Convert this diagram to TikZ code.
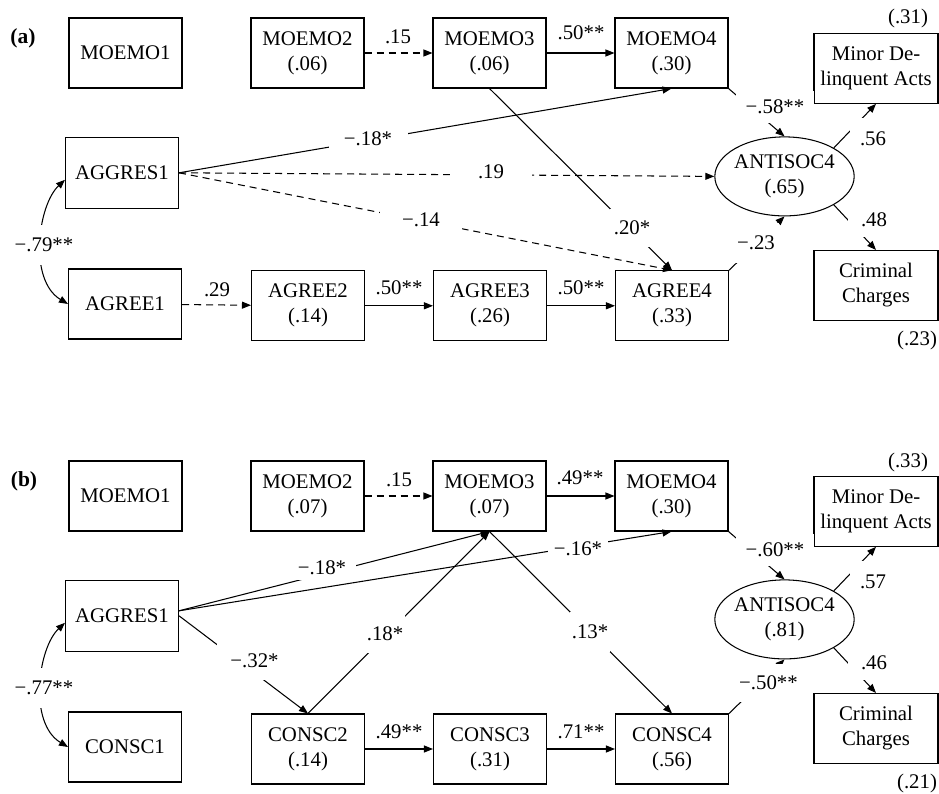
\documentclass[tikz,border=0pt]{standalone}
\usepackage{fontspec}
\setmainfont{Liberation Serif}
\usetikzlibrary{arrows.meta,shapes.geometric}
\begin{document}
\begin{tikzpicture}[x=1pt,y=-1pt,line width=1.05pt,
  every node/.style={font=\fontsize{20.8}{25}\selectfont},
  rbox/.style={draw,rectangle,minimum width=113pt,minimum height=70pt,align=center,inner sep=0pt},
  wbox/.style={draw,rectangle,minimum width=124pt,minimum height=70pt,align=center,inner sep=0pt},
  lat/.style={draw,ellipse,minimum width=139pt,minimum height=79pt,align=center,inner xsep=-1pt,inner ysep=0pt},
  lab/.style={fill=white,inner sep=1pt},
  plain/.style={inner sep=1pt},
  conn/.style={-{Triangle[length=9pt,width=7pt]}},
  dsh/.style={conn,dash pattern=on 7pt off 5pt},
  corr/.style={{Triangle[length=9pt,width=7pt]}-{Triangle[length=9pt,width=7pt]}},
  panel/.style={font=\fontsize{21.5}{25}\selectfont\bfseries}]
\useasboundingbox (0,0) rectangle (939,794);

% ---------------- Panel (a) ----------------
\node[panel] (pa) at (23,38) {(a)};
\node[rbox] (amo1) at (125.5,53) {MOEMO1};
\node[rbox] (amo2) at (307.5,53) {MOEMO2\\(.06)};
\node[rbox] (amo3) at (489.5,53) {MOEMO3\\(.06)};
\node[rbox] (amo4) at (671.5,53) {MOEMO4\\(.30)};
\node[wbox] (aminor) at (876,68.3) {Minor De-\\linquent Acts};
\node[lat] (aant) at (784.5,176.4) {ANTISOC4\\(.65)};
\node[rbox,minimum height=71pt] (aagg) at (122,172.8) {AGGRES1};
\node[rbox] (aag1) at (125,304) {AGREE1};
\node[rbox] (aag2) at (308,305.8) {AGREE2\\(.14)};
\node[rbox] (aag3) at (490,305.8) {AGREE3\\(.26)};
\node[rbox] (aag4) at (672,305.8) {AGREE4\\(.33)};
\node[wbox] (acrim) at (876,285.5) {Criminal\\Charges};
\node[plain] (ar1) at (908,19) {(.31)};
\node[plain] (ar2) at (917,340) {(.23)};

\draw[dsh] (amo2) -- (amo3);
\draw[conn] (amo3) -- (amo4);
\draw[conn] (amo4.south east) -- (aant.north);
\draw[conn] (aagg.east) -- (amo4.south);
\draw[dsh] (aagg.east) -- (aant.west);
\draw[dsh] (aagg.east) -- (aag4.north);
\draw[conn] (amo3.south) -- (aag4.north);
\draw[conn] (aag4.north east) -- (aant.south);
\draw[conn] (aant.30) -- (aminor.south);
\draw[conn] (aant.-30) -- (acrim.north);
\draw[dsh] (aag1) -- (aag2);
\draw[conn] (aag2) -- (aag3);
\draw[conn] (aag3) -- (aag4);
\draw[corr] (aagg.187) .. controls (38,205) and (28,280) .. (aag1.west);

\node[lab] (la1) at (398,37) {.15};
\node[lab] (la2) at (581,33) {.50**};
\node[lab,minimum width=78pt,minimum height=32pt] (la3) at (775,107) {−.58**};
\node[lab,minimum width=79pt,minimum height=20pt] (la4) at (368,139) {−.18*};
\node[lab,minimum width=82pt,minimum height=20pt] (la5) at (491,172) {.19};
\node[lab,minimum width=82pt,minimum height=20pt] (la6) at (421,220) {−.14};
\node[lab,minimum width=44pt,minimum height=38pt] (la7) at (632,228) {.20*};
\node[lab,minimum width=46pt,minimum height=40pt] (la8) at (756,243) {−.23};
\node[lab,minimum width=46pt,minimum height=42pt] (la9) at (873,139) {.56};
\node[lab,minimum width=52pt,minimum height=34pt] (la10) at (874,220) {.48};
\node[lab] (la11) at (217,290) {.29};
\node[lab] (la12) at (399,288) {.50**};
\node[lab] (la13) at (581,288) {.50**};
\node[lab,minimum width=60pt,minimum height=40pt] (la14) at (44,245) {−.79**};

% ---------------- Panel (b) ----------------
\node[panel] (pb) at (24,481) {(b)};
\node[rbox] (bmo1) at (125.5,496) {MOEMO1};
\node[rbox] (bmo2) at (307.5,496) {MOEMO2\\(.07)};
\node[rbox] (bmo3) at (489.5,496) {MOEMO3\\(.07)};
\node[rbox] (bmo4) at (671.5,496) {MOEMO4\\(.30)};
\node[wbox] (bminor) at (876,511.3) {Minor De-\\linquent Acts};
\node[lat] (bant) at (784.5,619.4) {ANTISOC4\\(.81)};
\node[rbox,minimum height=71pt] (bagg) at (122,615.8) {AGGRES1};
\node[rbox] (bco1) at (125,747) {CONSC1};
\node[rbox] (bco2) at (308,749) {CONSC2\\(.14)};
\node[rbox] (bco3) at (490,749) {CONSC3\\(.31)};
\node[rbox] (bco4) at (672,749) {CONSC4\\(.56)};
\node[wbox] (bcrim) at (876,728.5) {Criminal\\Charges};
\node[plain] (br1) at (908,462) {(.33)};
\node[plain] (br2) at (917,783) {(.21)};

\draw[dsh] (bmo2) -- (bmo3);
\draw[conn] (bmo3) -- (bmo4);
\draw[conn] (bmo4.south east) -- (bant.north);
\draw[conn] (bagg.5) -- (bmo3.south);
\draw[conn] (bagg.5) -- (bmo4.south);
\draw[conn] (bagg.east) -- (bco2.north);
\draw[conn] (bco2.north) -- (bmo3.south);
\draw[conn] (bmo3.south) -- (bco4.north);
\draw[conn] (bco4.north east) -- (bant.south);
\draw[conn] (bant.30) -- (bminor.south);
\draw[conn] (bant.-30) -- (bcrim.north);
\draw[conn] (bco2) -- (bco3);
\draw[conn] (bco3) -- (bco4);
\draw[corr] (bagg.187) .. controls (38,648) and (28,723) .. (bco1.west);

\node[lab] (lb1) at (399,480) {.15};
\node[lab] (lb2) at (580,478) {.49**};
\node[lab,minimum width=78pt,minimum height=32pt] (lb3) at (775,550) {−.60**};
\node[lab,minimum width=68pt,minimum height=25pt] (lb4) at (322,567.5) {−.18*};
\node[lab,minimum width=60pt,minimum height=22pt] (lb5) at (578,549) {−.16*};
\node[lab,minimum width=40pt,minimum height=38pt] (lb6) at (385,634) {.18*};
\node[lab,minimum width=75pt,minimum height=39pt] (lb7) at (254.5,660.5) {−.32*};
\node[lab,minimum width=40pt,minimum height=40pt] (lb8) at (590,632) {.13*};
\node[lab,minimum width=63pt,minimum height=38pt] (lb9) at (768.5,683) {−.50**};
\node[lab,minimum width=46pt,minimum height=42pt] (lb10) at (873,582) {.57};
\node[lab,minimum width=52pt,minimum height=34pt] (lb11) at (874,663) {.46};
\node[lab] (lb12) at (399,732) {.49**};
\node[lab] (lb13) at (581,732) {.71**};
\node[lab,minimum width=60pt,minimum height=40pt] (lb14) at (44,688) {−.77**};
\end{tikzpicture}
\end{document}
